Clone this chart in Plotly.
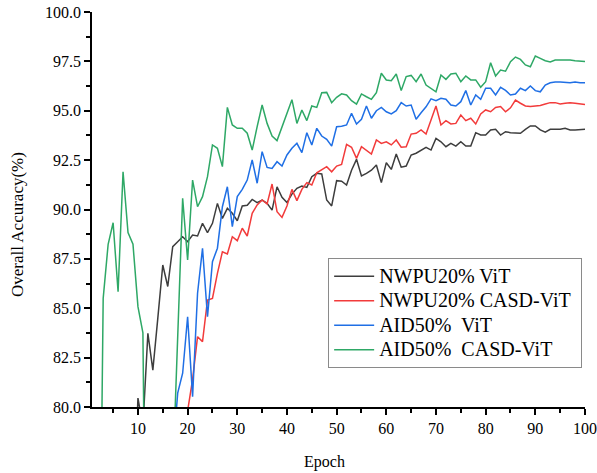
import plotly.graph_objects as go

epochs = list(range(1, 101))

nwpu_vit = [
    40.0, 50.0, 58.0, 64.0, 68.0, 71.0, 73.0, 74.5, 74.0, 80.45,
    79.0, 83.73, 81.87, 84.5, 87.19, 86.1, 88.12, 88.37, 88.62, 88.37,
    88.71, 88.66, 89.30, 88.83, 89.30, 90.31, 89.55, 90.06, 89.81, 89.43,
    90.18, 90.21, 90.51, 90.35, 90.48, 90.31, 89.97, 91.15, 90.62, 90.35,
    90.78, 91.07, 91.19, 91.12, 91.66, 91.83, 91.80, 90.48, 90.18, 91.46,
    91.43, 91.24, 91.99, 92.54, 91.70, 91.83, 91.99, 92.25, 91.36, 92.37,
    92.03, 92.81, 92.14, 92.20, 92.76, 92.85, 92.98, 93.15, 93.01, 93.60,
    93.43, 93.18, 93.35, 93.21, 93.43, 93.21, 93.21, 93.89, 93.77, 93.77,
    94.03, 94.06, 93.77, 93.94, 93.89, 93.86, 93.86, 94.06, 94.23, 94.23,
    94.03, 93.92, 94.06, 94.06, 94.06, 94.11, 94.03, 94.03, 94.03, 94.06,
]

nwpu_casd = [
    30.0, 38.0, 45.0, 50.0, 54.0, 57.0, 60.0, 62.0, 64.0, 66.0,
    67.5, 69.0, 70.5, 71.5, 72.5, 73.5, 74.5, 75.5, 76.5, 79.8,
    81.40, 83.56, 83.31, 85.42, 85.50, 86.77, 87.86, 87.75, 88.62, 88.42,
    89.05, 88.66, 89.81, 90.23, 90.48, 90.28, 91.29, 89.89, 89.60, 90.18,
    91.02, 90.45, 91.02, 91.36, 91.24, 91.86, 92.03, 92.17, 91.91, 92.20,
    92.28, 93.30, 93.15, 92.59, 93.18, 93.01, 92.81, 93.52, 93.35, 93.43,
    93.27, 93.52, 93.15, 93.18, 93.82, 93.86, 94.03, 93.82, 94.50, 95.24,
    94.28, 94.50, 94.33, 94.36, 94.78, 94.50, 94.62, 94.33, 94.84, 95.04,
    94.95, 95.17, 95.21, 94.95, 95.15, 95.54, 95.38, 95.24, 95.21, 95.24,
    95.27, 95.34, 95.41, 95.41, 95.34, 95.38, 95.41, 95.38, 95.34, 95.32,
]

aid_vit = [
    40.0, 47.0, 52.0, 56.0, 59.0, 62.0, 64.0, 66.0, 68.0, 69.5,
    71.0, 72.0, 73.0, 74.0, 75.0, 76.0, 77.5, 80.70, 81.71, 84.57,
    80.52, 85.76, 88.04, 84.57, 87.36, 88.04, 90.14, 91.15, 89.13, 90.65,
    91.02, 91.49, 92.51, 91.33, 92.93, 92.13, 92.08, 92.42, 92.20, 92.76,
    93.10, 93.35, 92.88, 93.89, 93.27, 94.11, 93.72, 93.55, 93.21, 94.19,
    94.22, 94.28, 94.87, 94.33, 94.57, 95.24, 94.62, 95.00, 95.17, 94.95,
    94.84, 95.00, 95.41, 95.24, 95.29, 94.57, 94.90, 95.20, 95.60, 95.51,
    95.63, 95.58, 95.29, 95.24, 95.46, 96.02, 95.29, 95.80, 95.58, 96.14,
    96.14, 95.80, 96.19, 96.03, 95.80, 95.85, 96.14, 96.02, 96.25, 96.02,
    95.96, 96.30, 96.42, 96.46, 96.46, 96.44, 96.42, 96.46, 96.42, 96.42,
]

aid_casd = [
    40.0, 62.0, 85.5, 88.24, 89.33, 85.84, 91.91, 88.83, 88.24, 85.08,
    83.76, 59.0, 60.0, 63.0, 66.0, 70.0, 76.5, 83.50, 90.57, 87.44,
    91.49, 90.14, 90.65, 91.66, 93.27, 93.10, 92.17, 95.17, 94.28, 94.11,
    94.11, 93.86, 93.01, 94.20, 95.29, 94.36, 93.72, 93.49, 94.20, 94.85,
    95.56, 94.36, 95.04, 94.50, 95.24, 95.17, 95.91, 95.93, 95.41, 95.68,
    95.86, 95.80, 95.51, 95.34, 95.85, 95.71, 95.58, 95.91, 96.90, 96.56,
    96.52, 96.86, 96.02, 96.73, 96.79, 96.47, 96.86, 96.30, 96.14, 95.96,
    96.81, 96.59, 96.86, 96.90, 96.47, 96.76, 96.56, 96.56, 96.19, 96.47,
    97.43, 96.76, 97.06, 97.00, 97.48, 97.72, 97.60, 97.32, 97.23, 97.77,
    97.65, 97.53, 97.47, 97.57, 97.57, 97.57, 97.57, 97.53, 97.50, 97.50,
]

series_names = ["NWPU20% ViT", "NWPU20% CASD-ViT", "AID50%\u00a0 ViT", "AID50%\u00a0 CASD-ViT"]
series_values = [nwpu_vit, nwpu_casd, aid_vit, aid_casd]
series_colors = ["#3d3d3d", "#f23b3b", "#1f6fe5", "#2ea866"]

y_ticks = [80.0, 82.5, 85.0, 87.5, 90.0, 92.5, 95.0, 97.5, 100.0]
y_minor = [81.25, 83.75, 86.25, 88.75, 91.25, 93.75, 96.25, 98.75]
x_ticks = [10, 20, 30, 40, 50, 60, 70, 80, 90, 100]
x_minor = [5, 15, 25, 35, 45, 55, 65, 75, 85, 95]

FONT = "Liberation Serif, Times New Roman, serif"

fig = go.Figure()
for name, vals, color in zip(series_names, series_values, series_colors):
    fig.add_trace(go.Scatter(
        x=epochs, y=vals, mode="lines",
        name=f'<span style="font-size:20px">{name}\u00a0</span>',
        line=dict(color=color, width=1.5),
    ))

fig.update_layout(
    width=597, height=473,
    margin=dict(l=92, r=12, t=12, b=66, autoexpand=False),
    plot_bgcolor="white", paper_bgcolor="white",
    font=dict(family=FONT, color="black", size=16),
    showlegend=True,
    legend=dict(
        x=0.479, y=0.377, xanchor="left", yanchor="top",
        bgcolor="white", bordercolor="#8a8a8a", borderwidth=1,
        font=dict(family=FONT, size=16.5, color="black"),
        itemwidth=40, tracegroupgap=0,
    ),
    annotations=[
        dict(text="Epoch", xref="paper", yref="paper", x=0.4726, y=-0.139,
             xanchor="center", yanchor="middle", showarrow=False,
             font=dict(family=FONT, size=16, color="black")),
        dict(text="Overall Accuracy(%)", xref="paper", yref="paper", x=-0.150, y=0.461,
             xanchor="center", yanchor="middle", showarrow=False, textangle=-90,
             font=dict(family=FONT, size=17, color="black")),
    ],
)

fig.update_xaxes(
    range=[0.75, 100], showgrid=False, zeroline=False, automargin=False,
    showline=True, linecolor="black", linewidth=1.5,
    tickmode="array", tickvals=x_ticks, ticktext=[str(v) for v in x_ticks],
    ticks="outside", ticklen=6, tickwidth=1.5, tickcolor="black",
    minor=dict(ticks="outside", ticklen=4, tickwidth=1.5, tickcolor="black",
               tickmode="array", tickvals=x_minor),
    tickfont=dict(family=FONT, size=16),
)

fig.update_yaxes(
    range=[80, 100], showgrid=False, zeroline=False, automargin=False,
    showline=True, linecolor="black", linewidth=1.5,
    tickmode="array", tickvals=y_ticks, ticktext=[f"{v:.1f}" for v in y_ticks],
    ticks="outside", ticklen=6, tickwidth=1.5, tickcolor="black",
    minor=dict(ticks="outside", ticklen=4, tickwidth=1.5, tickcolor="black",
               tickmode="array", tickvals=y_minor),
    tickfont=dict(family=FONT, size=16),
)

fig.write_html("out.html")
